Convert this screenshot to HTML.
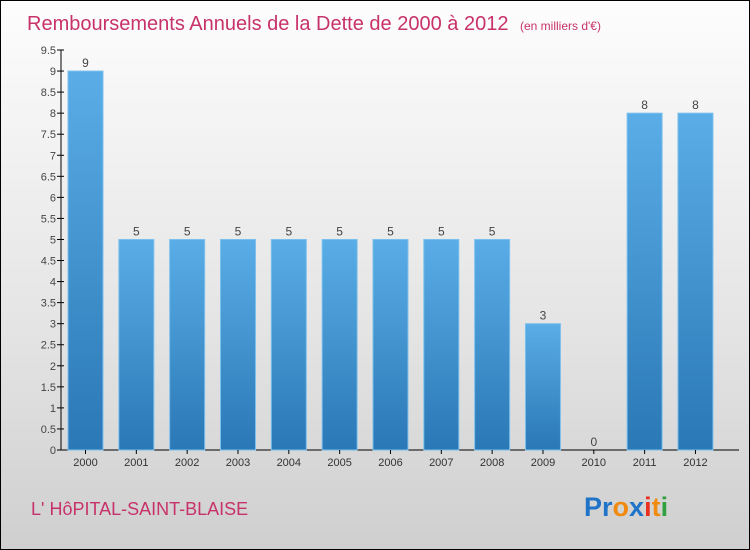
<!DOCTYPE html>
<html><head><meta charset="utf-8"><style>
body{margin:0;}
#c{position:relative;width:748px;height:548px;border:1px solid #000;background:linear-gradient(#fdfdfd,#e4e4e4 60%,#cfcfcf);font-family:"Liberation Sans",sans-serif;overflow:hidden;}
</style></head><body>
<div id="c">
<svg width="748" height="548" style="position:absolute;left:0;top:0" id="svg">
<defs><linearGradient id="bg" x1="0" y1="0" x2="0" y2="1"><stop offset="0" stop-color="#5aade6"/><stop offset="1" stop-color="#2a78b6"/></linearGradient></defs>
<text x="26" y="29" font-size="20" fill="#c8326a">Remboursements Annuels de la Dette de 2000 à 2012 <tspan font-size="12" dx="6">(en milliers d'€)</tspan></text>
<g id="plot"></g>
<text x="30" y="514" font-size="18" fill="#c8326a">L' HôPITAL-SAINT-BLAISE</text>
<text x="583" y="515" font-size="27" font-weight="bold"><tspan fill="#1f74c8">Pr</tspan><tspan fill="#f08a10">o</tspan><tspan fill="#1f74c8">x</tspan><tspan fill="#e83020">i</tspan><tspan fill="#f08a10">t</tspan><tspan fill="#30a040">i</tspan></text>
</svg>
</div>
<script>
const categories=["2000","2001","2002","2003","2004","2005","2006","2007","2008","2009","2010","2011","2012"];
const values=[9,5,5,5,5,5,5,5,5,3,0,8,8];
const ticks=[0,0.5,1,1.5,2,2.5,3,3.5,4,4.5,5,5.5,6,6.5,7,7.5,8,8.5,9,9.5];
const NS="http://www.w3.org/2000/svg";
const g=document.getElementById('plot');
const y0=449,yTop=49,maxV=9.5;
const y=v=>y0-(y0-yTop)*v/maxV;
const x=i=>67+i*50.83;
const bw=35;
function mk(t,a){const e=document.createElementNS(NS,t);for(const k in a)e.setAttribute(k,a[k]);g.appendChild(e);return e;}
let ax=mk('line',{x1:60,y1:yTop,x2:60,y2:y0,stroke:'#000'});


let bx=mk('line',{x1:60,y1:y0,x2:738,y2:y0,stroke:'#000'});


ticks.forEach(t=>{
 let l=mk('line',{x1:56,x2:63,y1:y(t),y2:y(t),stroke:'#000'});
 
 
 let tx=mk('text',{x:55,y:y(t)+4,'font-size':11,fill:'#444','text-anchor':'end'});
 tx.textContent=String(t);
 
 
});
categories.forEach((c,i)=>{
 const v=values[i];
 let r=mk('rect',{x:x(i),y:y(v),width:bw,height:y0-y(v),fill:'url(#bg)',stroke:'#7cc0ee','stroke-width':1});
 
 
 let t=mk('text',{x:x(i)+bw/2,y:y(v)-4,'font-size':12,fill:'#444','text-anchor':'middle'});
 t.textContent=String(v);
 
 
 let tk=mk('line',{x1:x(i)+bw/2,x2:x(i)+bw/2,y1:y0,y2:y0+4,stroke:'#000'});
 
 
 let xl=mk('text',{x:x(i)+bw/2,y:y0+16,'font-size':11,fill:'#333','text-anchor':'middle'});
 xl.textContent=c;
 
 
});
</script>
</body></html>
